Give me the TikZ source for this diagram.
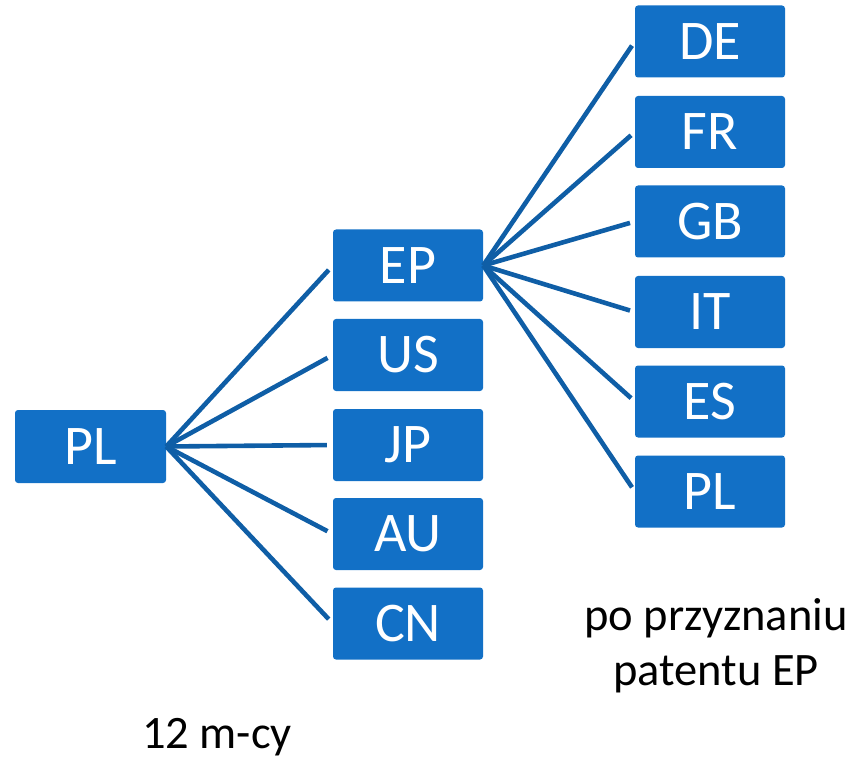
\documentclass[tikz,border=0pt]{standalone}
\usepackage{fontspec}
\setmainfont{Carlito}
\definecolor{boxblue}{RGB}{18,112,198}
\definecolor{lineblue}{RGB}{15,94,166}
\tikzset{
  cbox/.style={draw=none, fill=boxblue, rounded corners=3pt, minimum width=150pt, minimum height=72pt, inner sep=0pt, text=white, font=\fontsize{56}{60}\selectfont},
  link/.style={draw=lineblue, line width=4.6pt, shorten >=6pt},
  lbl/.style={anchor=base, font=\fontsize{46.5}{55}\selectfont, text=black, inner sep=0pt}
}
\begin{document}
\begin{tikzpicture}[x=1pt, y=-1pt]
\useasboundingbox (0,0) rectangle (854,759);
% left
\node[cbox, minimum width=151pt, minimum height=73pt] (pl) at (90.5,446.5) {PL};
% middle
\node[cbox] (ep) at (408,265.5) {EP};
\node[cbox] (us) at (408,355) {US};
\node[cbox] (jp) at (408,445) {JP};
\node[cbox] (au) at (408,534) {AU};
\node[cbox] (cn) at (408,623.5) {CN};
% right
\node[cbox] (de) at (710,41.5) {DE};
\node[cbox] (fr) at (710,132) {FR};
\node[cbox] (gb) at (710,221.5) {GB};
\node[cbox] (it) at (710,312) {IT};
\node[cbox] (es) at (710,401.5) {ES};
\node[cbox] (pl2) at (710,491.5) {PL};
% connectors
\foreach \t in {ep,us,jp,au,cn} \draw[link] (pl.east) -- (\t.west);
\foreach \t in {de,fr,gb,it,es,pl2} \draw[link, shorten >=5pt] (ep.east) -- (\t.west);
% labels
\node[lbl] (l1) at (716,630) {po przyznaniu};
\node[lbl] (l2) at (716,685) {patentu EP};
\node[lbl] (l3) at (217,748) {12 m-cy};
\end{tikzpicture}
\end{document}
